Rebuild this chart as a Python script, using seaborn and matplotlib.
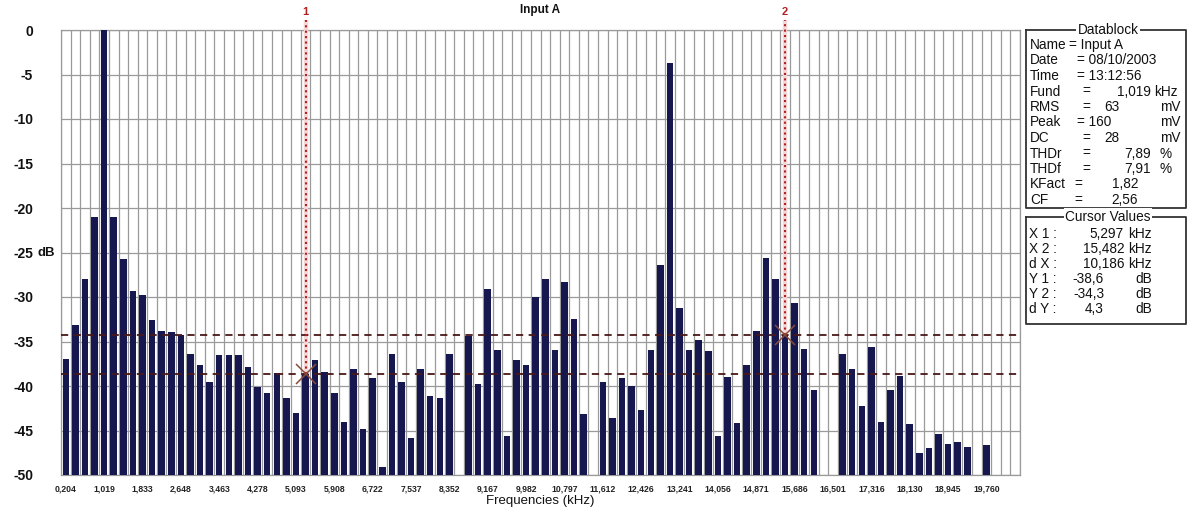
import numpy as np
import pandas as pd
import matplotlib
matplotlib.use("Agg")
import matplotlib.pyplot as plt
import seaborn as sns
from matplotlib.ticker import FixedLocator, FuncFormatter
from matplotlib.lines import Line2D

# ---------------- data ----------------
BINS = list(range(1, 101))
LEVELS_DB = [
    -37.0, -33.1, -28.0, -21.0, 0.0, -21.0, -25.7, -29.3, -29.8, -32.6,
    -33.8, -33.9, -34.3, -36.4, -37.6, -39.6, -36.5, -36.5, -36.5, -37.9,
    -40.1, -40.8, -38.5, -41.4, -43.0, -38.6, -37.1, -38.4, -40.8, -44.1,
    -38.1, -44.8, -39.1, -49.1, -36.4, -39.6, -45.8, -38.1, -41.1, -41.3,
    -36.4, np.nan, -34.4, -39.8, -29.1, -36.0, -45.6, -37.1, -37.6, -30.0,
    -28.0, -35.9, -28.3, -32.5, -43.2, np.nan, -39.5, -43.6, -39.1, -40.0,
    -42.7, -36.0, -26.4, -3.7, -31.2, -35.9, -34.8, -36.1, -45.6, -39.0,
    -44.2, -37.6, -33.8, -25.6, -28.0, -34.3, -30.7, -35.8, -40.4, np.nan,
    np.nan, -36.4, -38.1, -42.2, -35.6, -44.1, -40.4, -38.9, -44.3, -47.5,
    -47.0, -45.4, -46.5, -46.3, -46.8, np.nan, -46.6, np.nan, np.nan, np.nan,
]
TICK_BINS = list(range(1, 98, 4))
TICK_LABELS = ["0,204", "1,019", "1,833", "2,648", "3,463", "4,278", "5,093",
               "5,908", "6,722", "7,537", "8,352", "9,167", "9,982", "10,797",
               "11,612", "12,426", "13,241", "14,056", "14,871", "15,686",
               "16,501", "17,316", "18,130", "18,945", "19,760"]
DB_FLOOR = -50
DB_TICKS = [0, -5, -10, -15, -20, -25, -30, -35, -40, -45, -50]
CURSOR_NAMES = ["1", "2"]
CURSOR_BINS = [26, 76]
CURSOR_DB = [-38.6, -34.3]

DATABLOCK_LABELS = ["Name", "Date", "Time", "Fund", "RMS", "Peak", "DC",
                    "THDr", "THDf", "KFact", "CF"]
DATABLOCK_VALUES = ["Input A", "08/10/2003", "13:12:56", "1,019", "63", "160",
                    "28", "7,89", "7,91", "1,82", "2,56"]
DATABLOCK_UNITS = ["", "", "", "kHz", "mV", "mV", "mV", "%", "%", "", ""]
CURSOR_LABELS = ["X 1 :", "X 2 :", "d X :", "Y 1 :", "Y 2 :", "d Y :"]
CURSOR_VALUES = ["5,297", "15,482", "10,186", "-38,6", "-34,3", "4,3"]
CURSOR_UNITS = ["kHz", "kHz", "kHz", "dB", "dB", "dB"]

# ---------------- style ----------------
sns.set_style("white")
plt.rcParams["font.family"] = ["Liberation Sans", "DejaVu Sans"]

W, H = 1189, 508
fig = plt.figure(figsize=(W / 100, H / 100), dpi=100)


def fx(px):
    return px / W


def fy(py):
    return 1 - py / H


ax = fig.add_axes([fx(61), fy(475), (1020 - 61) / W, (475 - 30) / H])

df = pd.DataFrame({"bin": [str(b) for b in BINS], "db": LEVELS_DB})
df["level"] = df["db"] - DB_FLOOR
order = [str(b) for b in BINS]

BAR_COLOR = "#171750"
sns.barplot(data=df, x="bin", y="level", order=order, color=BAR_COLOR,
            saturation=1, width=0.68, linewidth=0, ax=ax, zorder=3)

ax.set_xlim(-0.5, len(BINS) - 0.5)
ax.set_ylim(0, -DB_FLOOR)

# grid
ax.xaxis.set_major_locator(FixedLocator([b - 1 for b in TICK_BINS]))
ax.set_xticklabels(TICK_LABELS)
ax.xaxis.set_minor_locator(FixedLocator(np.arange(-0.5, len(BINS), 1.0)))
ax.yaxis.set_major_locator(FixedLocator([d - DB_FLOOR for d in DB_TICKS]))
ax.yaxis.set_major_formatter(FuncFormatter(lambda v, _: f"{v + DB_FLOOR:g}"))
ax.grid(False)
ax.grid(which="minor", axis="x", color="#9a9a9a", linewidth=0.9, zorder=0)
ax.grid(which="major", axis="y", color="#9a9a9a", linewidth=0.9, zorder=0)
ax.set_axisbelow(True)
for s in ax.spines.values():
    s.set_color("#9a9a9a")
    s.set_linewidth(0.9)

ax.tick_params(axis="x", which="both", length=0, pad=7)
ax.tick_params(axis="y", length=0, pad=20)
for lab in ax.get_xticklabels():
    lab.set_fontsize(6.2)
    lab.set_fontweight("bold")
    lab.set_color("#222222")
for lab in ax.get_yticklabels():
    lab.set_fontsize(10)
    lab.set_fontweight("bold")
    lab.set_color("#111111")
ax.text(-0.024, -25 - DB_FLOOR, "dB", transform=ax.get_yaxis_transform(),
        ha="left", va="center", fontsize=9.5, fontweight="bold", color="#111111")

ax.set_xlabel("Frequencies (kHz)", fontsize=9.5, labelpad=1, color="#111111")
ax.set_ylabel("")
ax.set_title("Input A", fontsize=8.5, fontweight="bold", pad=12, color="#111111")

# cursors
for name, b, d in zip(CURSOR_NAMES, CURSOR_BINS, CURSOR_DB):
    xpos = b - 1
    lvl = d - DB_FLOOR
    ax.axhline(lvl, color="#4a1818", linestyle=(0, (4, 3)), linewidth=1.3, zorder=5)
    ax.plot([xpos, xpos], [lvl, -DB_FLOOR + 1.1], color="#f6d6d6", linewidth=3.2,
            solid_capstyle="butt", zorder=4, clip_on=False)
    ax.plot([xpos, xpos], [lvl, -DB_FLOOR + 1.1], color="#b02020", linewidth=1.5,
            linestyle=(0, (1, 1.6)), zorder=6, clip_on=False)
    ax.plot([xpos], [lvl], marker="x", markersize=15, mew=1.1, color="#8a4a3a",
            zorder=7)
    ax.text(xpos, -DB_FLOOR + 1.5, name, ha="center", va="bottom", fontsize=8,
            fontweight="bold", color="#b02020", clip_on=False)

# ---------------- side panel ----------------
BOX_COLOR = "#333333"
TXT = dict(fontsize=9.8, color="#111111", va="center")


def draw_box(x0, x1, y0, y1, title, tx):
    fig.add_artist(Line2D([fx(x0), fx(x0), fx(x1), fx(x1), fx(x0)],
                          [fy(y0), fy(y1), fy(y1), fy(y0), fy(y0)],
                          color=BOX_COLOR, linewidth=1.3))
    fig.text(fx(tx), fy(y0), title, ha="center", va="center", fontsize=9.8,
             color="#111111",
             bbox=dict(facecolor="white", edgecolor="none", pad=1.2))


draw_box(1026, 1186, 30, 208, "Datablock", 1108)
draw_box(1026, 1186, 217, 324, "Cursor Values", 1108)

row_y = [45, 60.5, 76, 91.5, 107, 122.5, 138, 153.5, 169, 184.5, 200]
for i, (lab, val, unit) in enumerate(zip(DATABLOCK_LABELS, DATABLOCK_VALUES,
                                         DATABLOCK_UNITS)):
    y = fy(row_y[i])
    fig.text(fx(1030), y, lab, ha="left", **TXT)
    if lab == "Name":
        fig.text(fx(1069), y, "= " + val, ha="left", **TXT)
    elif lab in ("Date", "Time", "Peak"):
        fig.text(fx(1077), y, "= " + val, ha="left", **TXT)
    elif lab in ("RMS", "DC"):
        fig.text(fx(1082), y, "=", ha="left", **TXT)
        fig.text(fx(1104), y, val, ha="left", **TXT)
    elif lab in ("KFact", "CF"):
        fig.text(fx(1074), y, "=", ha="left", **TXT)
        fig.text(fx(1138), y, val, ha="right", **TXT)
    else:
        fig.text(fx(1082), y, "=", ha="left", **TXT)
        fig.text(fx(1151), y, val, ha="right", **TXT)
    if unit == "kHz":
        fig.text(fx(1154), y, unit, ha="left", **TXT)
    elif unit:
        fig.text(fx(1160), y, unit, ha="left", **TXT)

cur_y = [234, 249, 264, 279, 294, 309]
for i, (lab, val, unit) in enumerate(zip(CURSOR_LABELS, CURSOR_VALUES, CURSOR_UNITS)):
    y = fy(cur_y[i])
    fig.text(fx(1029), y, lab, ha="left", **TXT)
    if unit == "kHz":
        fig.text(fx(1124), y, val, ha="right", **TXT)
        fig.text(fx(1128), y, unit, ha="left", **TXT)
    else:
        fig.text(fx(1104), y, val, ha="right", **TXT)
        fig.text(fx(1135), y, unit, ha="left", **TXT)

fig.savefig("out.png", dpi=100, facecolor="white")
